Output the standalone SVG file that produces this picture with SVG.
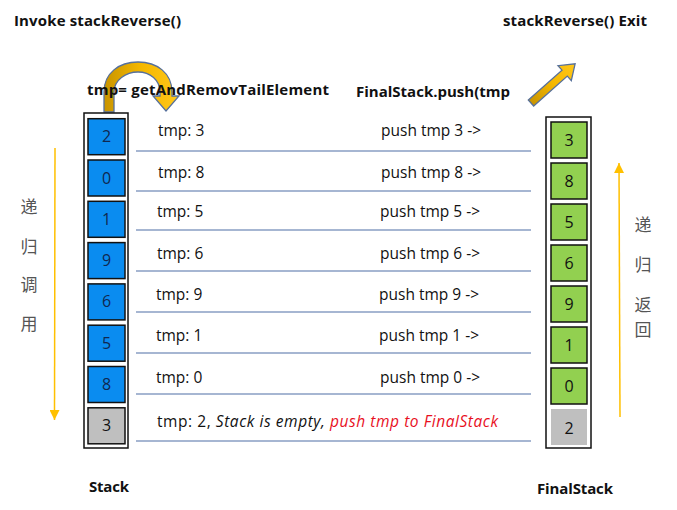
<svg xmlns="http://www.w3.org/2000/svg" width="677" height="510" viewBox="0 0 677 510">
<defs>
<linearGradient id="gold" x1="0" y1="0" x2="1" y2="0">
<stop offset="0" stop-color="#C89400"/><stop offset="0.5" stop-color="#F5B800"/><stop offset="1" stop-color="#FFC71A"/>
</linearGradient>
<marker id="oh" viewBox="0 0 10 10" refX="10" refY="5" markerWidth="10" markerHeight="10" markerUnits="userSpaceOnUse" orient="auto">
<path d="M0,0 L10,5 L0,10 Z" fill="#FFC000"/>
</marker>
<style>
text{font-family:"Open Sans","Liberation Sans",sans-serif;fill:#111}
.h{font-weight:bold;font-size:15px}
.t{font-size:15.5px}
.d{font-size:16px;text-anchor:middle}
.cj{font-family:"Noto Sans CJK SC",sans-serif;font-size:17px;fill:#555;text-anchor:middle}
.blue{fill:#0A8CF0;stroke:#111;stroke-width:1.5}
.green{fill:#92D050;stroke:#111;stroke-width:1.5}
.gray{fill:#BFBFBF;stroke:#111;stroke-width:1.5}
.box{fill:#fff;stroke:#111;stroke-width:1.5}
.sep{stroke:#4F6FA5;stroke-width:1.2}
.ob{stroke:#FFC000;stroke-width:1.5;fill:none}
.arr{fill:url(#gold);stroke:#56709C;stroke-width:1.3}
</style>
</defs>
<rect width="677" height="510" fill="#fff"/>

<g id="curved-arrow">
<path class="arr" d="M104,112 L104,92 C104,73 119,62 138,62 C157,62 172,73 172,92 L172,96 L179,96 L166,111 L153,96 L160,96 L160,92 C160,80 150,72 138,72 C126,72 114,80 114,92 L114,112 Z"/>
</g>
<g id="exit-arrow" transform="translate(531,103) rotate(-41.6)">
<path class="arr" d="M0,-4 L45,-4 L45,-10 L59,0 L45,10 L45,4 L0,4 Z"/>
</g>

<g id="titles">
<text class="h" x="14" y="26" textLength="167">Invoke stackReverse()</text>
<text class="h" x="503" y="26" textLength="144">stackReverse() Exit</text>
<text class="h" x="87" y="95" textLength="242">tmp= getAndRemovTailElement</text>
<text class="h" x="356" y="97" textLength="154">FinalStack.push(tmp</text>
<text class="h" x="89" y="492" textLength="40">Stack</text>
<text class="h" x="537" y="494" textLength="76">FinalStack</text>
</g>

<g id="stack">
<rect class="box" x="84" y="113" width="44" height="335"/>
<rect class="blue" x="88" y="118.7" width="37" height="36"/><text class="d" x="106.5" y="142" style="fill:#102850">2</text>
<rect class="blue" x="88" y="160" width="37" height="36"/><text class="d" x="106.5" y="184" style="fill:#102850">0</text>
<rect class="blue" x="88" y="201.3" width="37" height="36"/><text class="d" x="106.5" y="225" style="fill:#102850">1</text>
<rect class="blue" x="88" y="242.6" width="37" height="36"/><text class="d" x="106.5" y="266" style="fill:#102850">9</text>
<rect class="blue" x="88" y="283.9" width="37" height="36"/><text class="d" x="106.5" y="307" style="fill:#102850">6</text>
<rect class="blue" x="88" y="325.2" width="37" height="36"/><text class="d" x="106.5" y="349" style="fill:#102850">5</text>
<rect class="blue" x="88" y="366.5" width="37" height="36"/><text class="d" x="106.5" y="390" style="fill:#102850">8</text>
<rect class="gray" x="88" y="407.8" width="37" height="36"/><text class="d" x="106.5" y="431">3</text>
</g>

<g id="finalstack">
<rect class="box" x="546" y="117" width="45" height="331"/>
<rect class="green" x="551" y="122" width="36" height="36"/><text class="d" x="569" y="146">3</text>
<rect class="green" x="551" y="163" width="36" height="36"/><text class="d" x="569" y="187">8</text>
<rect class="green" x="551" y="204" width="36" height="36"/><text class="d" x="569" y="228">5</text>
<rect class="green" x="551" y="245" width="36" height="36"/><text class="d" x="569" y="269">6</text>
<rect class="green" x="551" y="286" width="36" height="36"/><text class="d" x="569" y="310">9</text>
<rect class="green" x="551" y="327" width="36" height="36"/><text class="d" x="569" y="351">1</text>
<rect class="green" x="551" y="368" width="36" height="36"/><text class="d" x="569" y="392">0</text>
<rect x="551" y="409" width="36" height="36" fill="#BFBFBF"/><text class="d" x="569" y="434">2</text>
</g>

<g id="labels">
<text class="cj" x="29" y="213">递</text>
<text class="cj" x="29" y="253">归</text>
<text class="cj" x="29" y="291">调</text>
<text class="cj" x="29" y="330">用</text>
<text class="cj" x="643" y="231">递</text>
<text class="cj" x="643" y="271">归</text>
<text class="cj" x="643" y="311">返</text>
<text class="cj" x="643" y="336">回</text>
</g>

<g id="rows">
<text class="t" x="158" y="136">tmp: 3</text>
<text class="t" x="158" y="178">tmp: 8</text>
<text class="t" x="157" y="217">tmp: 5</text>
<text class="t" x="157" y="259">tmp: 6</text>
<text class="t" x="156" y="300">tmp: 9</text>
<text class="t" x="156" y="341">tmp: 1</text>
<text class="t" x="156" y="383">tmp: 0</text>
<text class="t" x="157" y="427" textLength="341">tmp: 2, <tspan font-style="italic">Stack is empty, </tspan><tspan font-style="italic" fill="#E8101E">push tmp to FinalStack</tspan></text>
<text class="t" x="381" y="136">push tmp 3 -&gt;</text>
<text class="t" x="381" y="178">push tmp 8 -&gt;</text>
<text class="t" x="380" y="217">push tmp 5 -&gt;</text>
<text class="t" x="380" y="259">push tmp 6 -&gt;</text>
<text class="t" x="379" y="300">push tmp 9 -&gt;</text>
<text class="t" x="379" y="341">push tmp 1 -&gt;</text>
<text class="t" x="380" y="383">push tmp 0 -&gt;</text>
</g>

<g id="connectors">
<line class="sep" x1="136" y1="151" x2="531" y2="151"/>
<line class="sep" x1="136" y1="191" x2="531" y2="191"/>
<line class="sep" x1="136" y1="230" x2="531" y2="230"/>
<line class="sep" x1="136" y1="271" x2="531" y2="271"/>
<line class="sep" x1="136" y1="312" x2="531" y2="312"/>
<line class="sep" x1="136" y1="353" x2="531" y2="353"/>
<line class="sep" x1="136" y1="394" x2="531" y2="394"/>
<line class="sep" x1="136" y1="441" x2="531" y2="441"/>
<line class="ob" x1="55" y1="148" x2="54.5" y2="420" marker-end="url(#oh)"/>
<line class="ob" x1="620" y1="417" x2="619" y2="163" marker-end="url(#oh)"/>
</g>
</svg>
